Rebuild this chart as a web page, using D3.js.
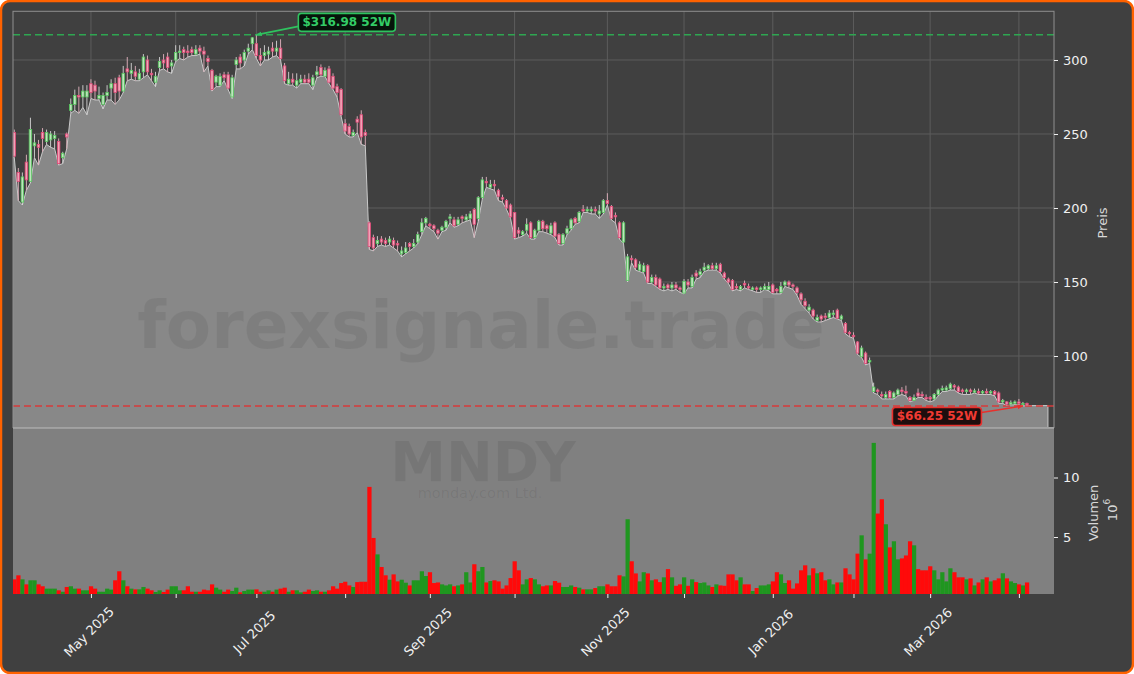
<!DOCTYPE html>
<html><head><meta charset="utf-8">
<script src="https://cdn.jsdelivr.net/npm/d3@7"></script>
<style>
html,body{margin:0;padding:0;background:#ffffff;}
svg{display:block;}
text{font-family:"DejaVu Sans","Liberation Sans",sans-serif;}
</style></head><body>
<svg id="chart" width="1134" height="674"></svg>
<script>
// ---------------- DATA (MNDY, daily, Apr 2025 - Apr 2026) ----------------
const ticker = "MNDY";
const company = "monday.com Ltd.";
const watermark = "forexsignale.trade";
const opens = [251,224,204,231,218,242,243,251,245,246,
247,245,234,250,266,270,276,275,275,284,
283,274,270,276,281,284,288,279,294,291,
292,287,292,300,291,285,295,300,302,296,
300,305,307,306,307,304,308,306,301,293,
285,283,290,290,275,297,302,300,306,311,
311,303,303,304,308,306,308,296,284,287,
283,285,287,287,283,290,295,289,294,289,
282,280,257,255,249,260,263,251,190,180,
176,179,178,177,178,176,169,170,176,174,
177,184,190,189,188,185,185,187,193,192,
189,194,192,193,199,193,207,218,214,216,
212,207,205,202,197,185,182,185,190,180,
185,191,188,183,190,182,176,183,186,193,
191,199,198,198,199,196,197,205,201,195,
190,177,151,166,165,158,157,161,150,153,
152,146,148,146,148,146,142.5,150,147,156,
155,158,159,161,159,162,156,152,151,147,
145,149,147,145,146,145,145,145,148,145,
143,148,150,148,146,142,137,131,131,124,
127,127,126,128,131,125,122,116,114,109.5,
99.5,102,96,76,77,74,72,76,72,74,
77,76,72,70,75,74,72,72,71,74,
77,77,78,80,79,77,76,77,75.5,76,
75,76,75,76,75,69,69,67.5,68,69,
67.5,68];
const highs = [253,227,224,236,261,250,246,254,253,252,
252,247,238,251,274,280,282,283,283,287,
286,282,278,283,287,288,290,296,302,298,
296,294,304,303,294,292,302,304,305,300,
310,310,309,310,309,310,310,309,303,294,
290,291,292,292,290,302,304,307,311,315.5,
316.98,308,310,309,312,313,314,298,292,291,
291,290,290,291,290,296,297,295,296,291,
284,281,260,257,253,262,266,253,191,182,
181,181,180,181,180,178,174,177,177,179,
184,193,194,190,189,186,188,192,196,194,
194,195,196,198,200,208,221,221,219,219,
213,209,206,203,197,187,185,193,191,186,
192,192,189,190,191,183,183,188,193,194,
198,202,201,201,201,202,206,210,202,197,
191,191,169,168,166,164,163,162,155,155,
153,149,149,150,150,147,152,152,155,158,
159,163,162,163,163,163,157,153,152,149,
148,151,149,147,147,147,149,150,149,146,
150,151,151,149,147,143,139,135,132,128,
128,129,131,131,132,128,123,117,116,110,
107,103,99,82,78,76,76,77,76,78,
79,80,73,74,78,76,74,73,75,78,
80,80,82,81,80,78,78,78,78,78,
77,78,77,77,76,71,69.5,70,70,71,
69,68.5];
const lows = [234,205,202,212,217,234,229,238,243,241,
240,229,230,240,264,266,264,268,263,274,
273,273,267,273,273,270,273,278,286,287,
286,286,288,290,286,282,293,294,292,291,
299,301,300,302,303,303,304,292,296,279,
282,282,286,280,274,294,294,296,304,307,
301,296,300,300,302,303,300,284,283,283,
281,284,284,284,280,288,289,289,284,280,
275,262,250,248,248,251,243,242,172,171,
174,175,174,175,173,171,167,169,171,173,
176,182,188,186,184,179,184,185,190,187,
188,190,191,192,180,191,206,214,213,212,
205,204,199,193,179,180,181,183,179,179,
184,184,183,182,180,175,175,182,185,189,
190,197,197,196,196,193,196,202,192,190,
179,176,150,163,158,157,156,149,149,147,
145,144,145,144,145,143,142,146,146,152,
153,157,158,158,158,156,152,149,144,145,
144,146,145,144,143,143,145,144,142,142,
142,147,146,145,141,135,132,129,125,123,
123,124,125,126,125,124,115,113,112,101,
99,94,95,75,74,71,71,71,71,73,
74,73,69,70,72,72,70,69,70,73,
76,76,77,77,75,74,74,74,75,74,
74,74,74,73,68,68,66.5,67,67,67,
66.25,66.5];
const closes = [235,218,221,219,253,244,241,247,251,250,
249,230,237,248,270,276,275,279,279,278,
279,276,276,278,284,278,279,291,292,293,
289,291,302,292,290,289,299,298,295,298,
305,306,305,305,305,307,306,304,299,280,
289,289,288,281,288,300,298,305,308,315,
303,300,305,306,306,308,301,286,287,285,
286,287,285,285,288,292,290,293,285,281,
278,263,252,250,251,258,248,249,174,173,
178,177,176,179,175,175,171,173,174,176,
182,190,193,188,186,183,187,191,194,188,
192,193,194,196,189,207,219,217,216,215,
208,206,200,194,180,183,184,189,180,185,
191,186,186,188,181,176,182,186,192,190,
197,198,199,199,198,198,205,203,193,194,
180,190,167,165,160,162,161,150,153,148,
146,147,146,148,146,145,150.5,148,153,154,
157,160,161,159,161,157,153,150,145,146,
147,148,146,146,145,146,147,147,143,144,
147,150,148,147,143,138,134,133,127,126,
125,126,129,129,125.5,127,116,115,113,102,
105.4,95,97,79,76,73,74,72,75,77,
76,75,70,72,73,73,71,71,74,77,
78,78.5,81,79,76,76,77,76,76.5,75,
76,75,76,74,69,70,67.5,68.5,69,68,
68,67];
// volume in millions of shares
const volumes = [1.44,1.78,1.44,1.02,1.36,1.36,1.02,0.86,0.66,0.66,
0.66,0.52,0.4,0.8,0.86,0.66,0.66,0.52,0.52,0.86,
0.66,0.4,0.4,0.66,0.58,1.36,2.12,1.36,0.86,0.66,
0.6,0.6,0.8,0.66,0.52,0.38,0.52,0.38,0.58,0.86,
0.86,0.52,0.52,0.86,0.4,0.4,0.4,0.58,0.52,1.02,
0.74,0.58,0.4,0.58,0.46,0.74,0.35,0.46,0.58,0.58,
0.6,0.4,0.4,0.52,0.4,0.58,0.66,0.74,0.4,0.52,
0.52,0.35,0.4,0.58,0.46,0.52,0.4,0.4,0.52,0.86,
0.66,1.13,1.24,0.93,0.8,1.21,1.24,1.24,9.21,4.92,
3.54,2.48,1.78,1.41,1.86,1.27,1.41,1.16,0.93,1.36,
1.36,2.12,1.72,2.04,1.13,1.18,1.02,0.93,1.02,0.86,
0.93,1.02,2.04,1.18,2.71,2.12,2.48,1.18,1.3,1.36,
1.27,0.66,0.93,1.55,2.96,2.2,1.02,1.44,1.55,1.44,
1.02,0.86,0.93,0.93,1.3,1.16,0.8,0.8,0.93,0.8,
0.74,0.6,0.6,0.6,0.71,0.86,0.86,1.02,0.86,0.86,
1.78,1.69,6.49,2.96,1.94,1.27,2.04,1.94,1.36,1.44,
1.21,1.61,2.3,1.61,0.9,1.02,1.61,0.9,1.44,1.21,
1.13,1.18,0.93,0.8,1.02,0.93,0.9,1.86,1.86,1.36,
1.61,1.02,1.02,0.46,0.71,0.93,0.93,1.02,1.27,2.04,
1.86,1.13,1.36,0.66,1.1,2.2,2.62,1.78,2.37,1.95,
2.04,1.36,1.44,1.02,1.18,1.18,2.37,1.86,1.44,3.6,
5.14,3.12,3.6,12.91,6.97,8.17,6.07,4.13,4.64,3.12,
3.2,3.45,4.64,4.3,2.3,2.2,2.2,2.54,2.2,1.44,
2.04,1.27,2.37,2.04,1.61,1.61,1.44,1.52,0.93,1.18,
1.44,1.61,1.27,1.36,1.52,1.95,1.52,1.27,1.13,1.02,
0.93,1.18];
// month ticks (bar index of first trading day of month) and their labels
const monthTickIndex = [19,40,60,82,103,124,147,166,188,208,227,249];
const monthTickLabels = ["May 2025","","Jul 2025","","Sep 2025","","Nov 2025","","Jan 2026","","Mar 2026",""];
const priceTicks = [100,150,200,250,300];
const volumeTicks = [5,10];
const high52w = 316.98, high52wIndex = 60;
const low52w = 66.25, low52wIndex = 250;
const high52wLabel = "$316.98 52W";
const low52wLabel = "$66.25 52W";

// ---------------- LAYOUT ----------------
const W = 1134, H = 674;
const L = 13, R = 1054;
const pTop = 11.3, pBot = 427.5;
const vTop = 428, vBot = 594;
const N = opens.length;
const areaPadRight = 5.2;

const svg = d3.select("#chart");
const x = d3.scaleLinear().domain([-0.32, 257.7]).range([L, R]);
const yP = d3.scaleLinear().domain([51.7, 332.9]).range([pBot, pTop]);
const yV = d3.scaleLinear().domain([0.21, 14.16]).range([vBot, vTop]);
const step = x(1) - x(0);

// background + orange frame
svg.append("rect").attr("x",1).attr("y",1).attr("width",W-2).attr("height",H-2)
  .attr("rx",9).attr("fill","#404040").attr("stroke","#ff6200").attr("stroke-width",2.5);

const defs = svg.append("defs");
defs.append("clipPath").attr("id","clipP").append("rect").attr("x",L).attr("y",pTop).attr("width",R-L).attr("height",pBot-pTop);
defs.append("clipPath").attr("id","clipV").append("rect").attr("x",L).attr("y",vTop).attr("width",R-L).attr("height",vBot-vTop);
[["arrG","#2fc25f"],["arrR","#e8302c"]].forEach(([id,c])=>{
  defs.append("marker").attr("id",id).attr("viewBox","0 0 10 10").attr("refX",9).attr("refY",5)
    .attr("markerWidth",6).attr("markerHeight",6).attr("markerUnits","userSpaceOnUse").attr("orient","auto")
    .append("path").attr("d","M0,1 L10,5 L0,9 z").attr("fill",c);
});

// ---------------- PRICE PANEL ----------------
const gP = svg.append("g").attr("clip-path","url(#clipP)");
gP.append("rect").attr("x",L).attr("y",pTop).attr("width",R-L).attr("height",pBot-pTop).attr("fill","#404040");
// grid
gP.selectAll(".hg").data(priceTicks).enter().append("line")
  .attr("x1",L).attr("x2",R).attr("y1",d=>yP(d)).attr("y2",d=>yP(d))
  .attr("stroke","#5c5c5c").attr("stroke-width",1);
gP.selectAll(".vg").data(monthTickIndex).enter().append("line")
  .attr("x1",d=>x(d)).attr("x2",d=>x(d)).attr("y1",pTop).attr("y2",pBot)
  .attr("stroke","#5c5c5c").attr("stroke-width",1);

// area under the lows
const areaIdx = [x.domain()[0]].concat(d3.range(N), [N-1+areaPadRight]);
const areaLow = [lows[0]].concat(lows, [lows[N-1]]);
const areaPts = areaIdx.map((d,i)=>[d, areaLow[i]]);
gP.append("path").datum(areaPts)
  .attr("d", d3.area().x(d=>x(d[0])).y0(pBot).y1(d=>yP(d[1])))
  .attr("fill","#888888");
gP.append("path").datum(areaPts.concat([[N-1+areaPadRight, yP.domain()[0]]]))
  .attr("d", d3.line().x(d=>x(d[0])).y(d=>yP(d[1])))
  .attr("fill","none").attr("stroke","#c9c9c9").attr("stroke-width",1);

// watermark
gP.append("text").attr("x",481).attr("y",348).attr("text-anchor","middle")
  .attr("font-size",66).attr("font-weight","bold").attr("fill","#000").attr("fill-opacity",0.065)
  .text(watermark);

// 52W lines
gP.append("line").attr("x1",L).attr("x2",R).attr("y1",yP(high52w)).attr("y2",yP(high52w))
  .attr("stroke","#2ea651").attr("stroke-width",1.5).attr("stroke-dasharray","7,4");
gP.append("line").attr("x1",L).attr("x2",R).attr("y1",yP(low52w)).attr("y2",yP(low52w))
  .attr("stroke","#d63a3a").attr("stroke-width",1.5).attr("stroke-dasharray","7,4");

// candles
const idx = d3.range(N);
const up = i => closes[i] >= opens[i];
const bw = step*0.62;
gP.selectAll(".wick").data(idx).enter().append("line")
  .attr("x1",i=>x(i)).attr("x2",i=>x(i)).attr("y1",i=>yP(highs[i])).attr("y2",i=>yP(lows[i]))
  .attr("stroke",i=>up(i)?"#d6d6d6":"#e3b3c0").attr("stroke-width",0.9);
gP.selectAll(".body").data(idx).enter().append("rect")
  .attr("x",i=>x(i)-bw/2).attr("width",bw)
  .attr("y",i=>yP(Math.max(opens[i],closes[i])))
  .attr("height",i=>Math.max(1,Math.abs(yP(opens[i])-yP(closes[i]))))
  .attr("fill",i=>up(i)?"#bfe3bf":"#f0a3b7")
  .attr("stroke",i=>up(i)?"#55c75c":"#e04876").attr("stroke-width",0.8);

// spines
svg.append("rect").attr("x",L).attr("y",pTop).attr("width",R-L).attr("height",pBot-pTop)
  .attr("fill","none").attr("stroke","#8f8f8f").attr("stroke-width",1);

// ---------------- VOLUME PANEL ----------------
const gV = svg.append("g").attr("clip-path","url(#clipV)");
gV.append("rect").attr("x",L).attr("y",vTop).attr("width",R-L).attr("height",vBot-vTop).attr("fill","#808080");
gV.append("text").attr("x",483).attr("y",481).attr("text-anchor","middle")
  .attr("font-size",56).attr("font-weight","bold").attr("fill","#000").attr("fill-opacity",0.075).text(ticker);
gV.append("text").attr("x",480).attr("y",498).attr("text-anchor","middle")
  .attr("font-size",14.5).attr("fill","#000").attr("fill-opacity",0.075).text(company);
gV.selectAll(".vb").data(idx).enter().append("rect")
  .attr("x",i=>x(i)-step/2).attr("width",step+0.2)
  .attr("y",i=>yV(volumes[i])).attr("height",i=>yV(yV.domain()[0])-yV(volumes[i]))
  .attr("fill",i=>up(i)?"#1f961f":"#ff0a0a");
svg.append("line").attr("x1",L).attr("x2",R).attr("y1",pBot+0.5).attr("y2",pBot+0.5)
  .attr("stroke","#a9a9a9").attr("stroke-width",1.5);

// ---------------- AXES ----------------
const axisColor = "#f0f0f0";
const ayP = svg.append("g").attr("transform",`translate(${R},0)`)
  .call(d3.axisRight(yP).tickValues(priceTicks).tickSize(4).tickPadding(5));
const ayV = svg.append("g").attr("transform",`translate(${R},0)`)
  .call(d3.axisRight(yV).tickValues(volumeTicks).tickSize(4).tickPadding(5));
const axX = svg.append("g").attr("transform",`translate(0,${vBot})`)
  .call(d3.axisBottom(x).tickValues(monthTickIndex).tickSize(4).tickFormat(""));
[ayP,ayV,axX].forEach(g=>{
  g.select(".domain").remove();
  g.selectAll(".tick line").attr("stroke",axisColor);
  g.selectAll(".tick text").attr("fill",axisColor).attr("font-size",13)
   .attr("font-family",'"DejaVu Sans",sans-serif');
});
svg.selectAll(".xl").data(monthTickIndex).enter().append("text")
  .attr("transform",d=>`translate(${x(d)-2},632) rotate(-45)`)
  .attr("text-anchor","middle").attr("dominant-baseline","central")
  .attr("font-size",13).attr("fill",axisColor)
  .text((d,i)=>monthTickLabels[i]);

// axis labels
svg.append("text").attr("transform","translate(1102,223) rotate(-90)")
  .attr("text-anchor","middle").attr("dominant-baseline","central")
  .attr("font-size",13).attr("fill","#d8d8d8").text("Preis");
svg.append("text").attr("transform","translate(1093,513) rotate(-90)")
  .attr("text-anchor","middle").attr("dominant-baseline","central")
  .attr("font-size",13).attr("fill","#d8d8d8").text("Volumen");
const t6 = svg.append("text").attr("transform","translate(1112,510) rotate(-90)")
  .attr("text-anchor","middle").attr("dominant-baseline","central")
  .attr("font-size",13).attr("fill","#d8d8d8");
t6.append("tspan").text("10");
t6.append("tspan").attr("dy",-5).attr("font-size",9).text("6");

// ---------------- ANNOTATIONS ----------------
function annot(ix, val, label, dx, dy, col, txtCol, bg, marker, boxW){
  const ax = x(ix), ay = yP(val);
  const cx = ax+dx, cy = ay+dy, bh = 18;
  const ex = dx>0 ? cx-boxW/2 : cx+boxW/2;
  const ey = cy + (dx>0 ? 4 : -4);
  svg.append("line").attr("x1",ex).attr("y1",ey).attr("x2",ax).attr("y2",ay)
    .attr("stroke",col).attr("stroke-width",1.6).attr("marker-end",`url(#${marker})`);
  svg.append("rect").attr("x",cx-boxW/2).attr("y",cy-bh/2).attr("width",boxW).attr("height",bh)
    .attr("rx",3).attr("fill",bg).attr("stroke",col).attr("stroke-width",1.6);
  svg.append("text").attr("x",cx).attr("y",cy).attr("text-anchor","middle").attr("dominant-baseline","central")
    .attr("font-size",12).attr("font-weight","bold").attr("fill",txtCol).text(label);
}
annot(high52wIndex, high52w, high52wLabel, 90.5, -12.5, "#2fc25f", "#33cc66", "#06140a", "arrG", 97);
annot(low52wIndex, low52w, low52wLabel, -86, 10.5, "#e8302c", "#f03a32", "#1e0e0e", "arrR", 89);
</script>
</body></html>
